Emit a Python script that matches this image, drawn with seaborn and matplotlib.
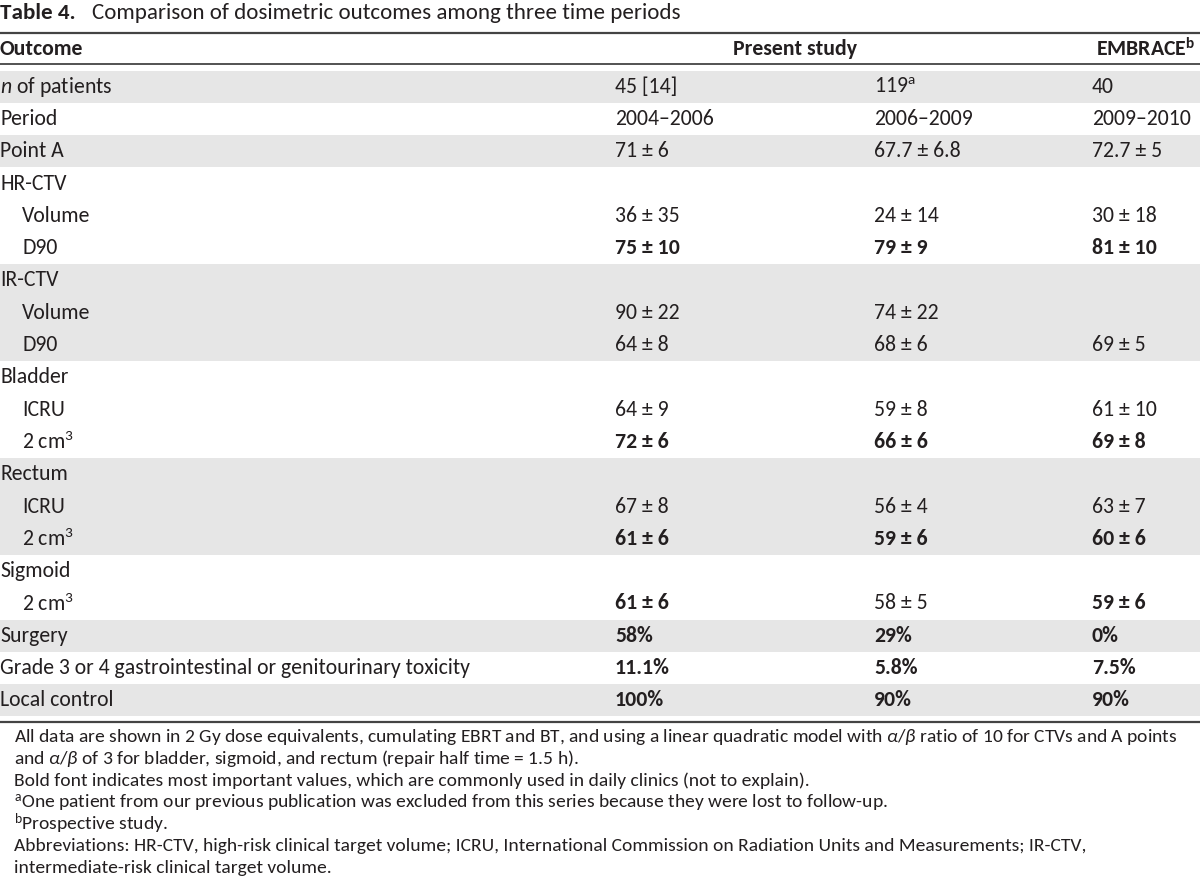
import matplotlib
matplotlib.use("Agg")
import matplotlib.pyplot as plt
import seaborn as sns
from matplotlib import font_manager

# --- Table content ---
TITLE_BOLD = "Table 4."
TITLE_TEXT = "Comparison of dosimetric outcomes among three time periods"
HEADERS = ["Outcome", "Present study", "EMBRACE$^\\mathregular{b}$"]

labels = [
    "$\\mathit{n}$ of patients", "Period", "Point A",
    "HR-CTV", "Volume", "D90",
    "IR-CTV", "Volume", "D90",
    "Bladder", "ICRU", "2 cm$^\\mathregular{3}$",
    "Rectum", "ICRU", "2 cm$^\\mathregular{3}$",
    "Sigmoid", "2 cm$^\\mathregular{3}$",
    "Surgery", "Grade 3 or 4 gastrointestinal or genitourinary toxicity",
    "Local control",
]
indented = [0, 0, 0, 0, 1, 1, 0, 1, 1, 0, 1, 1, 0, 1, 1, 0, 1, 0, 0, 0]
shaded = [1, 0, 1, 0, 0, 0, 1, 1, 1, 0, 0, 0, 1, 1, 1, 0, 0, 1, 0, 1]

col_2004_2006 = ["45 [14]", "2004–2006", "71 ± 6", "", "36 ± 35", "75 ± 10",
                 "", "90 ± 22", "64 ± 8", "", "64 ± 9", "72 ± 6",
                 "", "67 ± 8", "61 ± 6", "", "61 ± 6",
                 "58%", "11.1%", "100%"]
col_2006_2009 = ["119$^\\mathregular{a}$", "2006–2009", "67.7 ± 6.8", "", "24 ± 14", "79 ± 9",
                 "", "74 ± 22", "68 ± 6", "", "59 ± 8", "66 ± 6",
                 "", "56 ± 4", "59 ± 6", "", "58 ± 5",
                 "29%", "5.8%", "90%"]
col_embrace = ["40", "2009–2010", "72.7 ± 5", "", "30 ± 18", "81 ± 10",
               "", "", "69 ± 5", "", "61 ± 10", "69 ± 8",
               "", "63 ± 7", "60 ± 6", "", "59 ± 6",
               "0%", "7.5%", "90%"]
bold_2004_2006 = [0, 0, 0, 0, 0, 1, 0, 0, 0, 0, 0, 1, 0, 0, 1, 0, 1, 1, 1, 1]
bold_2006_2009 = [0, 0, 0, 0, 0, 1, 0, 0, 0, 0, 0, 1, 0, 0, 1, 0, 0, 1, 1, 1]
bold_embrace = [0, 0, 0, 0, 0, 1, 0, 0, 0, 0, 0, 1, 0, 0, 1, 0, 1, 1, 1, 1]

footnotes = [
    "All data are shown in 2 Gy dose equivalents, cumulating EBRT and BT, and using a linear quadratic model with "
    "$\\alpha/\\beta$ ratio of 10 for CTVs and A points",
    "and $\\alpha/\\beta$ of 3 for bladder, sigmoid, and rectum (repair half time = 1.5 h).",
    "Bold font indicates most important values, which are commonly used in daily clinics (not to explain).",
    "$^\\mathregular{a}$One patient from our previous publication was excluded from this series because they were lost to follow-up.",
    "$^\\mathregular{b}$Prospective study.",
    "Abbreviations: HR-CTV, high-risk clinical target volume; ICRU, International Commission on Radiation Units and "
    "Measurements; IR-CTV,",
    "intermediate-risk clinical target volume.",
]

# --- Style ---
sns.set_theme(style="white")
installed = {f.name for f in font_manager.fontManager.ttflist}
FONT = "Carlito" if "Carlito" in installed else "Lato"
plt.rcParams["font.family"] = [FONT, "DejaVu Sans"]
plt.rcParams["mathtext.fontset"] = "custom"
plt.rcParams["mathtext.rm"] = FONT
plt.rcParams["mathtext.it"] = FONT + ":italic"
plt.rcParams["mathtext.bf"] = FONT + ":bold"

TEXT_COLOR = "#231f20"
SHADE = "#e6e6e6"
RULE = "#444444"
FS_TITLE = 16.6
FS = 15.7
FS_NOTE = 14.0

fig = plt.figure(figsize=(12, 8.81), dpi=100)
ax = fig.add_axes([0, 0, 1, 1])
ax.set_xlim(0, 1200)
ax.set_ylim(881, 0)
ax.axis("off")

# title
ax.text(0, 13, TITLE_BOLD, fontsize=FS_TITLE, fontweight="bold", color=TEXT_COLOR, va="center")
ax.text(92, 13, TITLE_TEXT, fontsize=FS_TITLE, color=TEXT_COLOR, va="center")

# rules
ax.axhline(33, color=RULE, lw=1.6)
ax.axhline(64, color=RULE, lw=1.3)

# header
ax.text(0, 49, HEADERS[0], fontsize=FS, fontweight="bold", color=TEXT_COLOR, va="center")
ax.text(795, 49, HEADERS[1], fontsize=FS, fontweight="bold", color=TEXT_COLOR, va="center", ha="center")
ax.text(1195, 49, HEADERS[2], fontsize=FS, fontweight="bold", color=TEXT_COLOR, va="center", ha="right")

# body rows
row_top = 70.5
row_h = 32.3
col_x = [615, 874, 1092]
columns = [(col_2004_2006, bold_2004_2006), (col_2006_2009, bold_2006_2009), (col_embrace, bold_embrace)]
for i, lab in enumerate(labels):
    y0 = row_top + i * row_h
    yc = y0 + row_h / 2
    if shaded[i]:
        ax.axhspan(y0, y0 + row_h, color=SHADE, lw=0, zorder=0)
    ax.text(22 if indented[i] else 0, yc, lab, fontsize=FS, color=TEXT_COLOR, va="center")
    for x, (vals, bolds) in zip(col_x, columns):
        if vals[i]:
            ax.text(x, yc, vals[i], fontsize=FS, color=TEXT_COLOR, va="center",
                    fontweight="bold" if bolds[i] else "normal")

bottom = row_top + len(labels) * row_h
ax.axhline(bottom + 5, color=RULE, lw=1.6)

# footnotes
note_y0 = 737
note_step = 21.8
for j, note in enumerate(footnotes):
    ax.text(14, note_y0 + j * note_step, note, fontsize=FS_NOTE, color=TEXT_COLOR, va="center")

fig.savefig("out.png", dpi=100, facecolor="white")
